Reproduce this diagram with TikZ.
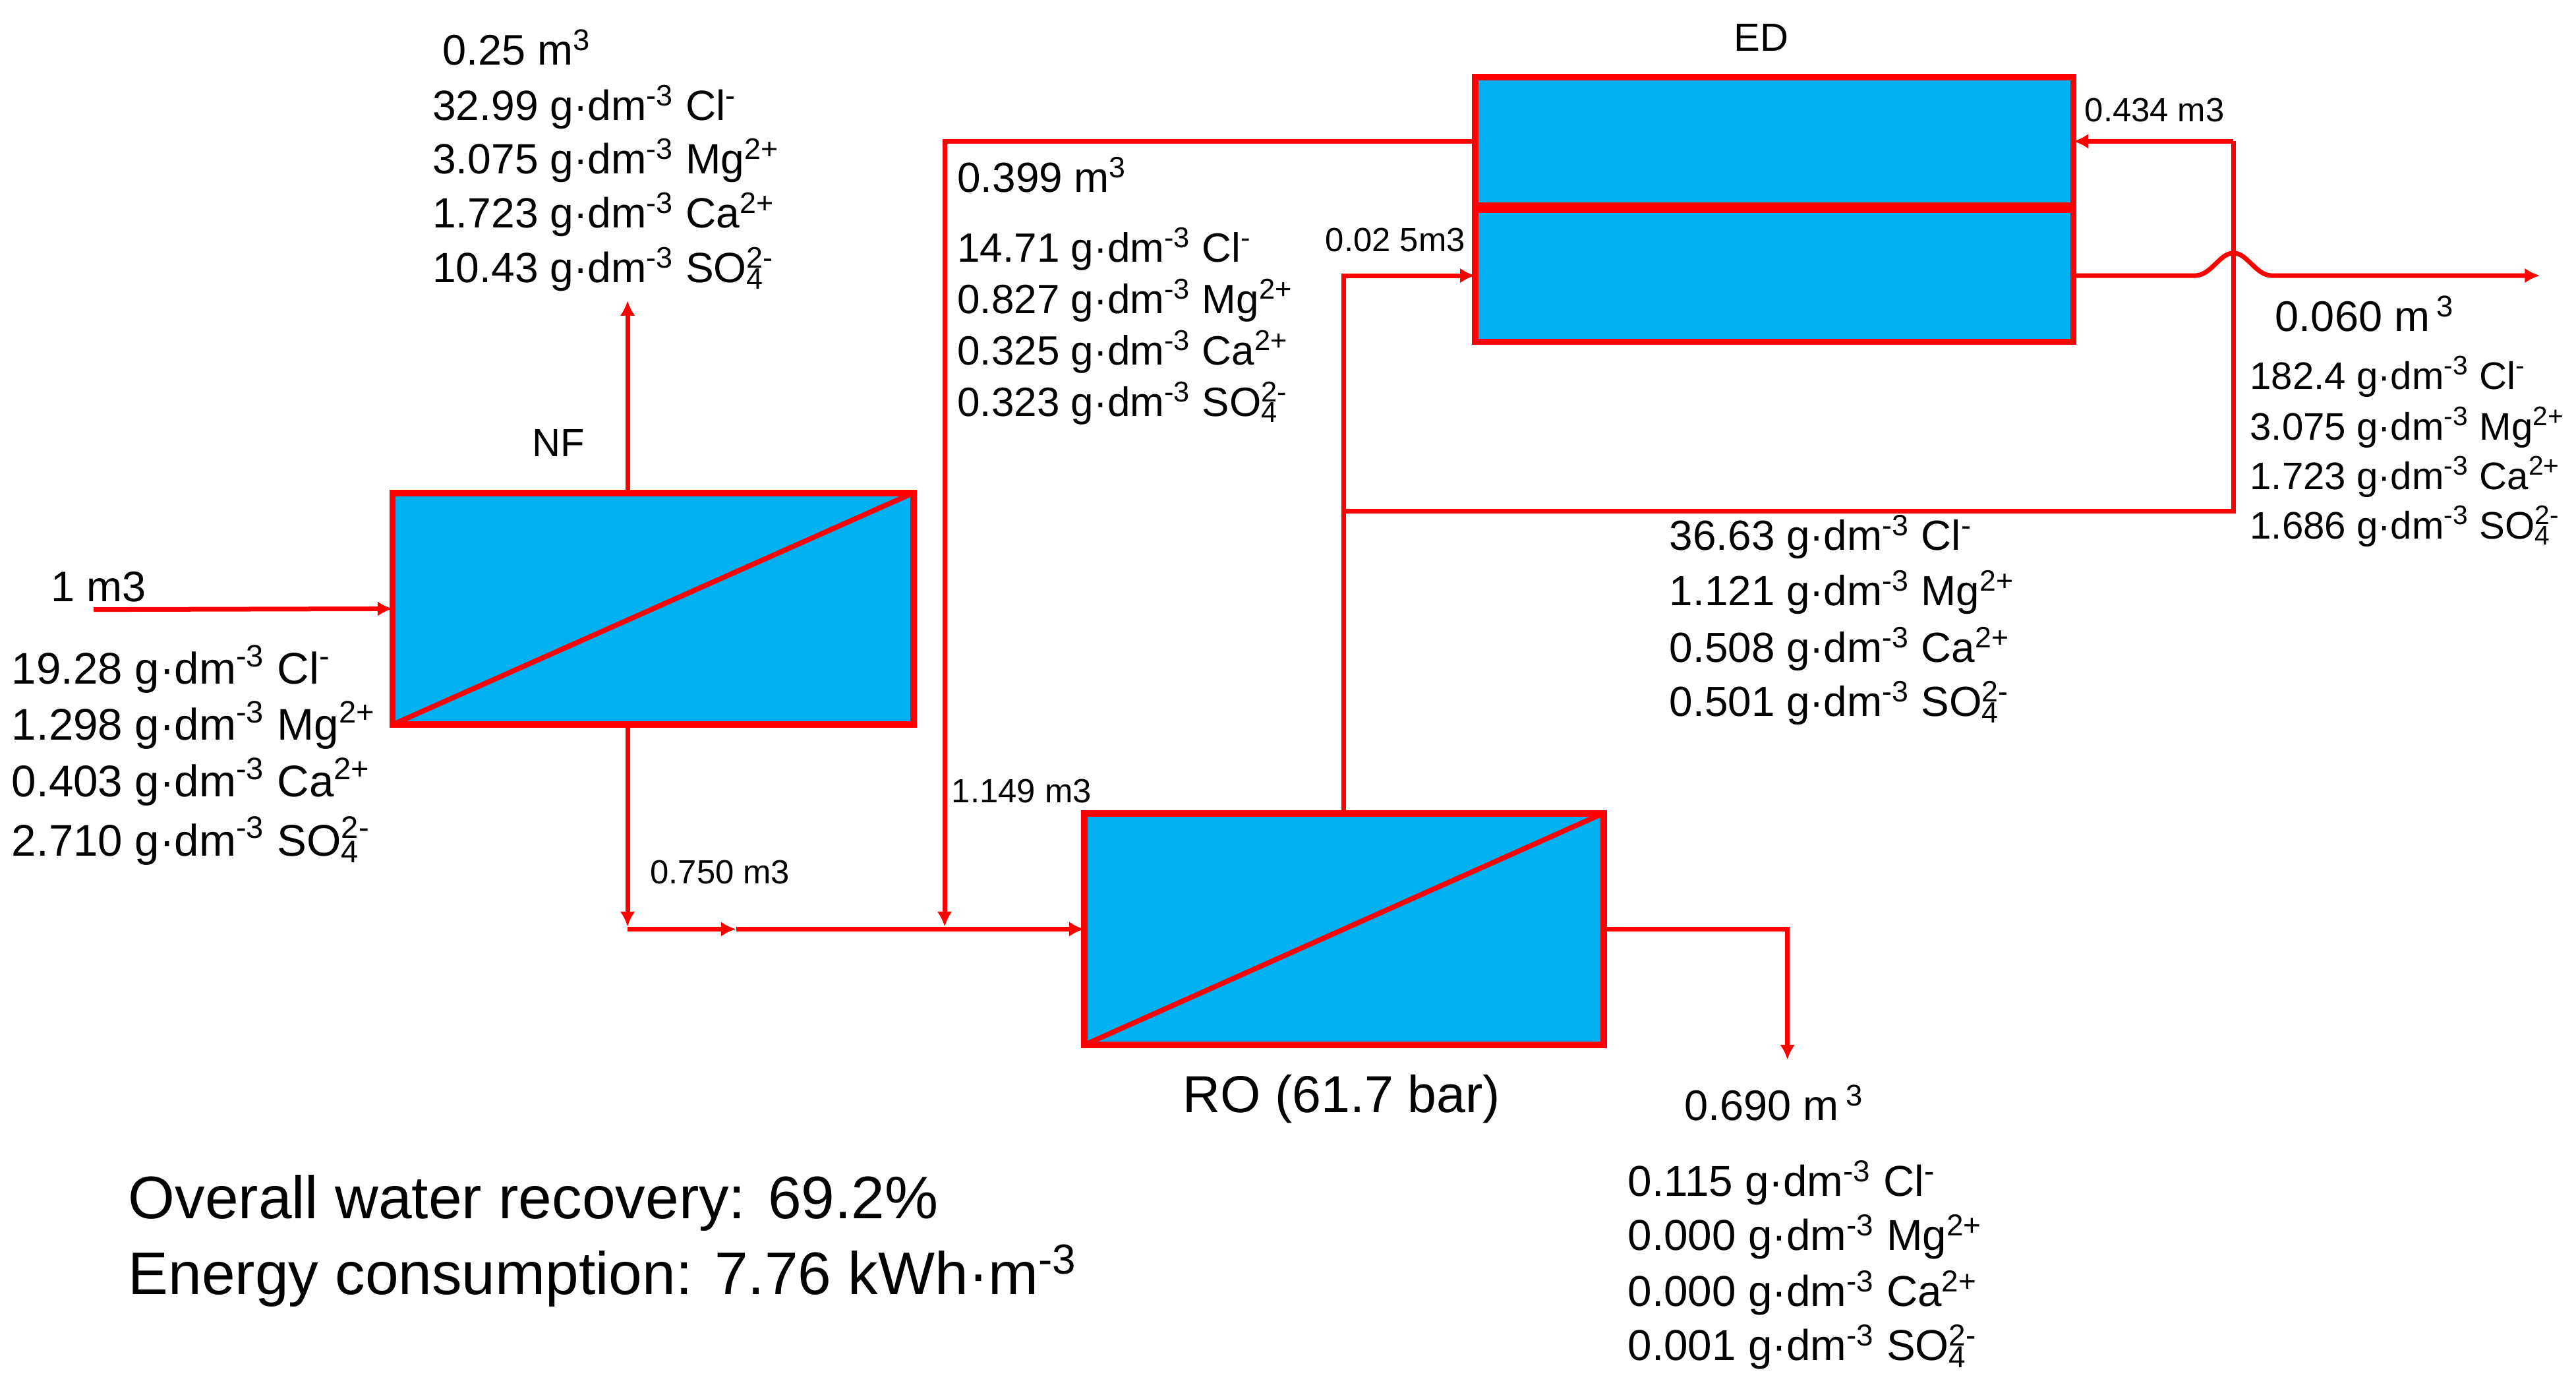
\documentclass[tikz,border=0pt]{standalone}
\usepackage{fontspec}
\setmainfont{Liberation Sans}
\usetikzlibrary{arrows.meta,calc}
\definecolor{boxblue}{HTML}{00B0F0}
\definecolor{flowred}{HTML}{FF0000}
\newcommand{\gdm}{g·dm\textsuperscript{-3}}
\newcommand{\myCl}{Cl\textsuperscript{-}}
\newcommand{\myMg}{Mg\textsuperscript{2+}}
\newcommand{\myCa}{Ca\textsuperscript{2+}}
\newcommand{\mySO}{SO\rlap{\textsuperscript{2-}}\textsubscript{4}}
\tikzset{
  unitbox/.style={draw=flowred, fill=boxblue, line width=2.8pt, inner sep=0pt, outer sep=0pt},
  membrane/.style={draw=flowred, line width=2.2pt},
  conn/.style={draw=flowred, line width=2pt, -{Latex[length=6.5pt,width=6.5pt]}},
  plain/.style={draw=flowred, line width=2pt},
  comp/.style={anchor=base west, inner sep=0pt, font=\fontsize{#1}{22}\selectfont},
  sml/.style={anchor=base west, inner sep=0pt, font=\fontsize{14.5}{17}\selectfont},
  ttl/.style={anchor=base, inner sep=0pt, font=\fontsize{17}{20}\selectfont},
  big/.style={anchor=base west, inner sep=0pt, font=\fontsize{26}{30}\selectfont},
}
\begin{document}
\begin{tikzpicture}[x=0.025cm, y=-0.025cm]
\path[use as bounding box] (0,0) rectangle (1568,845);

% units
\node[unitbox, minimum width=7.925cm, minimum height=3.525cm] (NF) at (397.5,370.5) {};
\node[unitbox, minimum width=7.9cm, minimum height=3.525cm] (RO) at (818,565.5) {};
\node[unitbox, minimum width=9.1cm, minimum height=1.95cm] (EDtop) at (1080,86) {};
\node[unitbox, minimum width=9.1cm, minimum height=2.0125cm] (EDbot) at (1080,167.75) {};
\draw[membrane] (NF.south west) -- (NF.north east);
\draw[membrane] (RO.south west) -- (RO.north east);

% helper coordinates
\coordinate (feed) at (57,371);
\coordinate (cNF) at (382,0);
\coordinate (nfup) at (382,183);
\coordinate (mix0) at (382,565.5);
\coordinate (mixa) at (448,565.5);
\coordinate (mixtop) at (382,564);
\coordinate (recdown) at (575,564);
\coordinate (j1) at (818,311);
\coordinate (k1) at (1359.5,311);
\coordinate (k2) at (1359.5,86);
\coordinate (hopA) at (1336,167.75);
\coordinate (hopP) at (1359.5,154);
\coordinate (hopB) at (1383,167.75);
\coordinate (edout) at (1546,167.75);
\coordinate (perm) at (1088,645);

% connectors
\draw[conn] (feed) -- (NF.west);
\draw[conn] (NF.north -| cNF) -- (nfup);
\draw[conn] (NF.south -| cNF) -- (mixtop);
\draw[conn] (mix0) -- (mixa);
\draw[conn] (mixa) -- (RO.west);
\draw[conn] (EDtop.west) -| (recdown);
\draw[conn] (RO.north) |- (EDbot.west);
\draw[plain] (j1) -- (k1) -- (k2);
\draw[conn] (k2) -- (EDtop.east);
\draw[conn] (EDbot.east) -- (hopA) .. controls (1346,167.75) and (1351,154) .. (hopP) .. controls (1368,154) and (1373,167.75) .. (hopB) -- (edout);
\draw[conn] (RO.east) -| (perm);

% titles
\node[ttl] (NFlbl) at (340,278) {NF};
\node[ttl] (EDlbl) at (1072,31) {ED};
\node[anchor=base, inner sep=0pt, font=\fontsize{22.5}{27}\selectfont] (ROlbl) at (816.6,677) {RO (61.7 bar)};

% NF concentrate
\node[comp=18.5] (a0) at (269,39.5) {0.25 m\textsuperscript{3}};
\node[comp=18.3] (a1) at (263,73.4) {32.99 \gdm{} \myCl};
\node[comp=18.3] (a2) at (263,105.6) {3.075 \gdm{} \myMg};
\node[comp=18.3] (a3) at (263,138.5) {1.723 \gdm{} \myCa};
\node[comp=18.3] (a4) at (263,172) {10.43 \gdm{} \mySO};

% feed
\node[comp=18.5] (b0) at (30.7,366) {1 m3};
\node[comp=19.2] (b1) at (6.9,416.4) {19.28 \gdm{} \myCl};
\node[comp=19.2] (b2) at (6.9,450.5) {1.298 \gdm{} \myMg};
\node[comp=19.2] (b3) at (6.9,485) {0.403 \gdm{} \myCa};
\node[comp=19.2] (b4) at (6.9,520.8) {2.710 \gdm{} \mySO};

% ED diluate recycle
\node[comp=18.2] (c0) at (582.5,117) {0.399 m\textsuperscript{3}};
\node[comp=17.7] (c1) at (582.5,159.4) {14.71 \gdm{} \myCl};
\node[comp=17.7] (c2) at (582.5,190.8) {0.827 \gdm{} \myMg};
\node[comp=17.7] (c3) at (582.5,222) {0.325 \gdm{} \myCa};
\node[comp=17.7] (c4) at (582.5,253.5) {0.323 \gdm{} \mySO};

% ED concentrate
\node[comp=18.5] (d0) at (1384.7,201.6) {0.060 m\,\textsuperscript{3}};
\node[comp=16.6] (d1) at (1369.3,237) {182.4 \gdm{} \myCl};
\node[comp=16.6] (d2) at (1369.3,268) {3.075 \gdm{} \myMg};
\node[comp=16.6] (d3) at (1369.3,298) {1.723 \gdm{} \myCa};
\node[comp=16.6] (d4) at (1369.3,328) {1.686 \gdm{} \mySO};

% RO concentrate
\node[comp=18.2] (e1) at (1016,335) {36.63 \gdm{} \myCl};
\node[comp=18.2] (e2) at (1016,368.5) {1.121 \gdm{} \myMg};
\node[comp=18.2] (e3) at (1016,403) {0.508 \gdm{} \myCa};
\node[comp=18.2] (e4) at (1016,436) {0.501 \gdm{} \mySO};

% permeate
\node[comp=18.5] (f0) at (1025,682) {0.690 m\,\textsuperscript{3}};
\node[comp=18.7] (f1) at (990.7,728) {0.115 \gdm{} \myCl};
\node[comp=18.7] (f2) at (990.7,761) {0.000 \gdm{} \myMg};
\node[comp=18.7] (f3) at (990.7,795) {0.000 \gdm{} \myCa};
\node[comp=18.7] (f4) at (990.7,828) {0.001 \gdm{} \mySO};

% small flow labels
\node[sml] (l750) at (395.5,538) {0.750 m3};
\node[sml] (l1149) at (579,488.6) {1.149 m3};
\node[sml] (l434) at (1268.7,74.2) {0.434 m3};
\node[sml] (l025) at (806.5,153) {0.02 5m3};

% summary
\node[big] (rec) at (77.8,741.6) {Overall water recovery: 69.2\%};
\node[big] (energy) at (77.8,788) {Energy consumption: 7.76 kWh·m\textsuperscript{-3}};
\end{tikzpicture}
\end{document}
